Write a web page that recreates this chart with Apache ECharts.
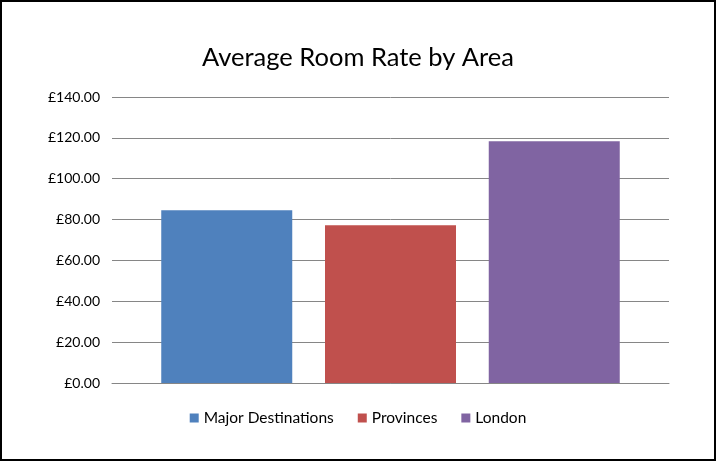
<!DOCTYPE html>
<html>
<head>
<meta charset="utf-8">
<script src="https://cdn.jsdelivr.net/npm/echarts@6/dist/echarts.min.js"></script>
<style>
	html, body { margin: 0; padding: 0; background: #fff; }
	#chart { width: 712px; height: 457px; border: 2px solid #000; }
</style>
</head>
<body>
<div id="chart"></div>
<script>
	const categories = ["Average Room Rate"];
	const seriesNames = ["Major Destinations", "Provinces", "London"];
	const seriesValues = [84.6, 77.2, 118.3];
	const colors = ["#4f81bd", "#c0504d", "#8064a2"];

	const chart = echarts.init(document.getElementById("chart"));

	const series = seriesNames.map((name, i) => ({
		name,
		type: "bar",
		barWidth: 131,
		barGap: "25%",
		data: [seriesValues[i]],
		itemStyle: { color: colors[i] }
	}));

	chart.setOption({
		animation: false,
		title: {
			text: "Average Room Rate by Area",
			left: "center",
			top: 38,
			textStyle: { fontFamily: "Lato", fontSize: 25.5, fontWeight: "normal", color: "#000" }
		},
		legend: {
			bottom: 28,
			left: "center",
			itemWidth: 9,
			itemHeight: 9,
			itemGap: 24,
			icon: "rect",
			textStyle: { fontFamily: "Lato", fontSize: 15.5, color: "#000" },
			data: seriesNames
		},
		grid: { left: 110, right: 45, top: 95, bottom: 76 },
		xAxis: {
			type: "category",
			data: categories,
			axisTick: { show: false },
			axisLabel: { show: false },
			axisLine: { lineStyle: { color: "#868686" } }
		},
		yAxis: {
			type: "value",
			min: 0,
			max: 140,
			interval: 20,
			axisLine: { show: false },
			axisTick: { show: false },
			splitLine: { lineStyle: { color: "#868686" } },
			axisLabel: {
				margin: 12,
				fontFamily: "Lato",
				fontSize: 14,
				color: "#000",
				formatter: v => "£" + v.toFixed(2)
			}
		},
		series
	});
</script>
</body>
</html>
